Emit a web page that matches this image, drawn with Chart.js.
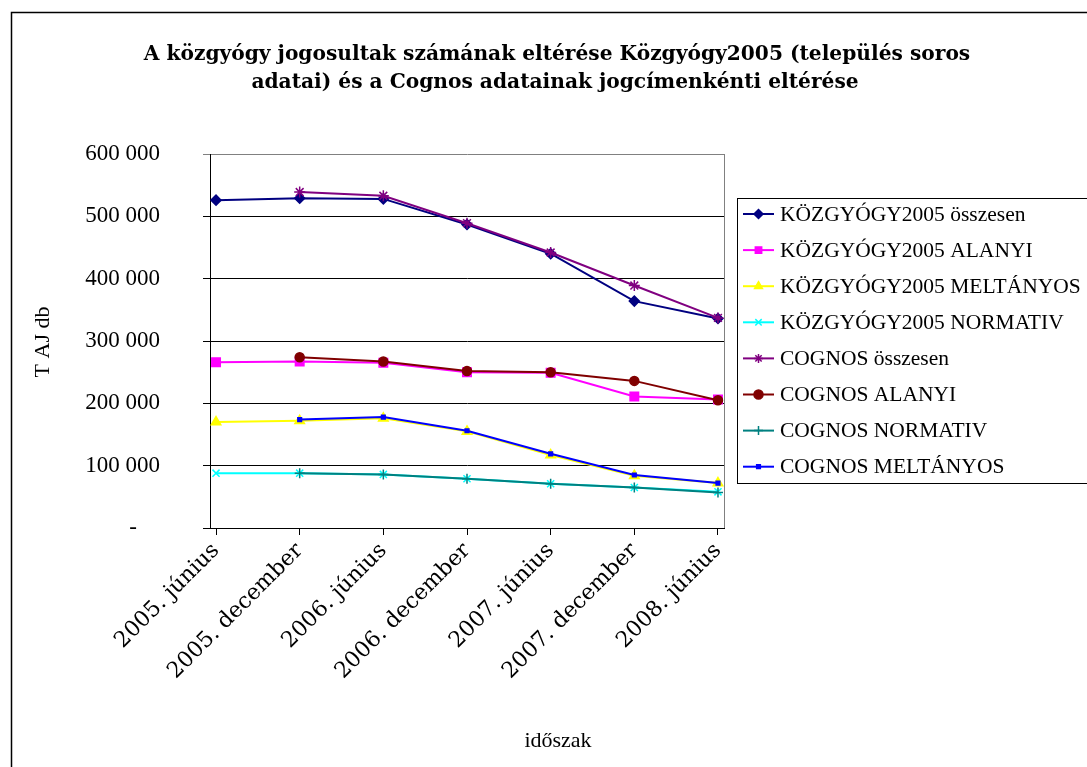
<!DOCTYPE html>
<html>
<head>
<meta charset="utf-8">
<script src="https://cdn.jsdelivr.net/npm/chart.js@4.4.1/dist/chart.umd.min.js"></script>
<style>
	html, body { margin: 0; padding: 0; background: #fff; }
	canvas { display: block; }
</style>
</head>
<body>
<canvas id="chart" width="1087" height="767"></canvas>
<script>
// =====================================
// DATA
// =====================================

const categories = ['2005. június', '2005. december', '2006. június', '2006. december', '2007. június', '2007. december', '2008. június'];
const yTickLabels = ['-', '100 000', '200 000', '300 000', '400 000', '500 000', '600 000'];

const kozOsszesen = [526000, 529000, 528000, 487000, 440000, 364000, 336000];
const kozAlanyi = [266000, 267000, 265000, 250000, 249000, 211000, 206000];
const kozMeltanyos = [170000, 172000, 176000, 155000, 117000, 84000, 72000];
const kozNormativ = [88000, 88000, 86000, 79000, 71000, 65000, 58000];
const cogOsszesen = [null, 539000, 533000, 489000, 442000, 389000, 337000];
const cogAlanyi = [null, 274000, 267000, 252000, 250000, 236000, 205000];
const cogNormativ = [null, 88000, 86000, 79000, 71000, 65000, 57000];
const cogMeltanyos = [null, 174000, 178000, 156000, 119000, 85000, 72000];

const titleLines = ['A közgyógy jogosultak számának eltérése Közgyógy2005 (település soros', 'adatai) és a Cognos adatainak jogcímenkénti eltérése'];
const yTitle = 'T AJ db';
const xTitle = 'időszak';

// =====================================
// SERIES STYLES
// =====================================

const series = [
	{ label: 'KÖZGYÓGY2005 összesen', data: kozOsszesen, color: '#000080', style: 'rectRot', radius: 5 },
	{ label: 'KÖZGYÓGY2005 ALANYI', data: kozAlanyi, color: '#ff00ff', style: 'rect', radius: 6 },
	{ label: 'KÖZGYÓGY2005 MELTÁNYOS', data: kozMeltanyos, color: '#ffff00', style: 'triangle', radius: 5.5 },
	{ label: 'KÖZGYÓGY2005 NORMATIV', data: kozNormativ, color: '#00ffff', style: 'crossRot', radius: 5 },
	{ label: 'COGNOS összesen', data: cogOsszesen, color: '#800080', style: 'star', radius: 5.5 },
	{ label: 'COGNOS ALANYI', data: cogAlanyi, color: '#800000', style: 'circle', radius: 4.5 },
	{ label: 'COGNOS NORMATIV', data: cogNormativ, color: '#008080', style: 'cross', radius: 5 },
	{ label: 'COGNOS MELTÁNYOS', data: cogMeltanyos, color: '#0000ff', style: 'rect', radius: 2.6 },
];

const serifFont = 'Liberation Serif';

const datasets = series.map((s, i) => ({
	label: s.label,
	data: s.data.map((v, idx) => ({ x: idx, y: v })),
	borderColor: s.color,
	backgroundColor: s.color,
	borderWidth: 2,
	pointStyle: s.style,
	pointRadius: s.radius,
	pointBorderWidth: 1.5,
	pointBackgroundColor: s.color,
	pointBorderColor: s.color,
	tension: 0,
	spanGaps: false,
	order: series.length - i,
}));

// =====================================
// DECORATION PLUGIN (title, axis titles, legend, borders)
// =====================================

const decor = {
	id: 'decor',
	beforeDraw(chart) {
		const ctx = chart.ctx;
		ctx.save();
		ctx.fillStyle = '#ffffff';
		ctx.fillRect(0, 0, chart.width, chart.height);
		ctx.restore();
	},
	afterDraw(chart) {
		const ctx = chart.ctx;
		const area = chart.chartArea;
		ctx.save();

		// plot right border
		ctx.strokeStyle = '#808080';
		ctx.lineWidth = 1;
		ctx.beginPath();
		ctx.moveTo(area.right + 0.5, area.top);
		ctx.lineTo(area.right + 0.5, area.bottom);
		ctx.stroke();

		// outer chart border
		ctx.strokeStyle = '#000';
		ctx.lineWidth = 1.5;
		ctx.strokeRect(11.5, 12.5, 1100, 800);

		// title
		ctx.fillStyle = '#000';
		ctx.textAlign = 'center';
		ctx.textBaseline = 'middle';
		ctx.font = `bold 20.2px "DejaVu Serif"`;
		ctx.fillText(titleLines[0], 557, 55);
		ctx.fillText(titleLines[1], 555, 83);

		// axis titles
		ctx.font = `22px "${serifFont}"`;
		ctx.fillText(xTitle, 558, 741);
		ctx.save();
		ctx.translate(43, 342);
		ctx.rotate(-Math.PI / 2);
		ctx.fillText(yTitle, 0, 0);
		ctx.restore();

		// legend box
		ctx.strokeStyle = '#000';
		ctx.lineWidth = 1;
		ctx.strokeRect(737.5, 198.5, 400, 285);

		ctx.textAlign = 'left';
		ctx.font = `21.5px "${serifFont}"`;
		chart.data.datasets.forEach((ds, i) => {
			const y = 214 + i * 36.1;
			ctx.strokeStyle = ds.borderColor;
			ctx.lineWidth = 2;
			ctx.beginPath();
			ctx.moveTo(743, y);
			ctx.lineTo(774, y);
			ctx.stroke();
			ctx.fillStyle = ds.pointBackgroundColor;
			ctx.strokeStyle = ds.pointBorderColor;
			ctx.lineWidth = 1.5;
			Chart.helpers.drawPoint(ctx, { pointStyle: ds.pointStyle, radius: Math.min(ds.pointRadius, 4.5), rotation: 0, borderWidth: 1.5 }, 758.5, y);
			ctx.fillStyle = '#000';
			ctx.fillText(ds.label, 780, y + 1);
		});

		ctx.restore();
	},
};

// =====================================
// CHART
// =====================================

new Chart(document.getElementById('chart'), {
	type: 'line',
	data: { datasets },
	options: {
		responsive: false,
		devicePixelRatio: 1,
		animation: false,
		layout: { padding: { left: 0, top: 154, right: 363, bottom: 0 } },
		plugins: {
			legend: { display: false },
			tooltip: { enabled: false },
			title: { display: false },
		},
		scales: {
			x: {
				type: 'linear',
				min: -0.072,
				max: 6.072,
				afterFit: (s) => { s.height = 239; },
				ticks: {
					stepSize: 1,
					includeBounds: false,
					autoSkip: false,
					maxRotation: 45,
					minRotation: 45,
					padding: 3,
					color: '#000',
					font: { family: 'DejaVu Serif', size: 22 },
					callback: (v) => categories[Math.round(v)] ?? '',
				},
				grid: { drawOnChartArea: false, drawTicks: true, tickLength: 7, color: '#000' },
				border: { display: true, color: '#000', width: 1 },
			},
			y: {
				min: 0,
				max: 600000,
				afterFit: (s) => { s.width = 210; },
				ticks: {
					stepSize: 100000,
					padding: 43,
					color: '#000',
					font: { family: serifFont, size: 23 },
					callback: (v, i) => (i === 0 ? yTickLabels[0] + '\u00a0\u00a0\u00a0\u00a0' : yTickLabels[i]),
				},
				grid: {
					color: (c) => (c.tick && c.tick.value === 600000 ? '#808080' : '#000'),
					lineWidth: 1,
					tickLength: 7,
				},
				border: { display: true, color: '#000', width: 1 },
			},
		},
	},
	plugins: [decor],
});
</script>
</body>
</html>
